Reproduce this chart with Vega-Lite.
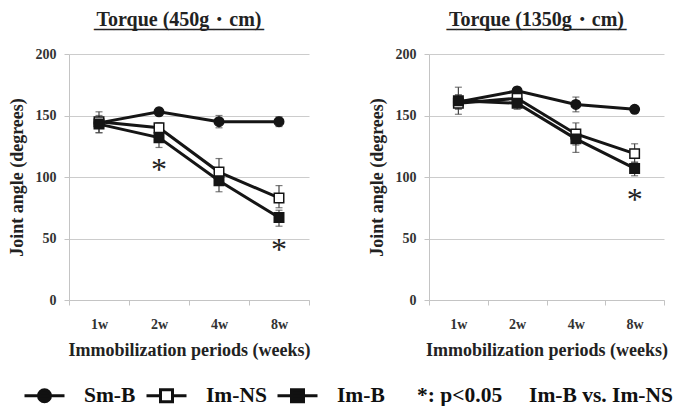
{
  "$schema": "https://vega.github.io/schema/vega-lite/v6.json",
  "background": "white",
  "padding": {"left": 8, "top": 10, "right": 5, "bottom": 0},
  "datasets": {
    "d": [
      {"panel": "L", "series": "Sm-B", "week": "1w", "value": 144, "lo": 140, "hi": 148, "sig": false},
      {"panel": "L", "series": "Sm-B", "week": "2w", "value": 153, "lo": 150, "hi": 156, "sig": false},
      {"panel": "L", "series": "Sm-B", "week": "4w", "value": 145, "lo": 140, "hi": 150, "sig": false},
      {"panel": "L", "series": "Sm-B", "week": "8w", "value": 145, "lo": 141, "hi": 149, "sig": false},
      {"panel": "L", "series": "Im-NS", "week": "1w", "value": 145, "lo": 136, "hi": 153, "sig": false},
      {"panel": "L", "series": "Im-NS", "week": "2w", "value": 140, "lo": 136, "hi": 144, "sig": false},
      {"panel": "L", "series": "Im-NS", "week": "4w", "value": 104, "lo": 96, "hi": 115, "sig": false},
      {"panel": "L", "series": "Im-NS", "week": "8w", "value": 83, "lo": 75, "hi": 93, "sig": false},
      {"panel": "L", "series": "Im-B", "week": "1w", "value": 143, "lo": 136, "hi": 150, "sig": false},
      {"panel": "L", "series": "Im-B", "week": "2w", "value": 132, "lo": 124, "hi": 137, "sig": true},
      {"panel": "L", "series": "Im-B", "week": "4w", "value": 97, "lo": 88, "hi": 104, "sig": false},
      {"panel": "L", "series": "Im-B", "week": "8w", "value": 67, "lo": 60, "hi": 73, "sig": true},
      {"panel": "R", "series": "Sm-B", "week": "1w", "value": 161, "lo": 156, "hi": 166, "sig": false},
      {"panel": "R", "series": "Sm-B", "week": "2w", "value": 170, "lo": 167, "hi": 173, "sig": false},
      {"panel": "R", "series": "Sm-B", "week": "4w", "value": 159, "lo": 153, "hi": 165, "sig": false},
      {"panel": "R", "series": "Sm-B", "week": "8w", "value": 155, "lo": 152, "hi": 158, "sig": false},
      {"panel": "R", "series": "Im-NS", "week": "1w", "value": 160, "lo": 151, "hi": 167, "sig": false},
      {"panel": "R", "series": "Im-NS", "week": "2w", "value": 164, "lo": 158, "hi": 168, "sig": false},
      {"panel": "R", "series": "Im-NS", "week": "4w", "value": 135, "lo": 126, "hi": 144, "sig": false},
      {"panel": "R", "series": "Im-NS", "week": "8w", "value": 119, "lo": 112, "hi": 127, "sig": false},
      {"panel": "R", "series": "Im-B", "week": "1w", "value": 162, "lo": 155, "hi": 173, "sig": false},
      {"panel": "R", "series": "Im-B", "week": "2w", "value": 160, "lo": 155, "hi": 164, "sig": false},
      {"panel": "R", "series": "Im-B", "week": "4w", "value": 131, "lo": 120, "hi": 138, "sig": false},
      {"panel": "R", "series": "Im-B", "week": "8w", "value": 107, "lo": 101, "hi": 112, "sig": true}
    ]
  },
  "config": {
    "font": "Liberation Serif",
    "view": {"stroke": null},
    "concat": {"spacing": 58},
    "axis": {
      "labelFont": "Liberation Serif",
      "labelFontWeight": "bold",
      "labelFontSize": 14,
      "labelColor": "#333",
      "titleFont": "Liberation Serif",
      "titleFontSize": 18,
      "titleFontWeight": "bold",
      "titleColor": "#222",
      "domainColor": "#c4c4c4",
      "tickColor": "#c4c4c4",
      "gridColor": "#cccccc"
    },
    "title": {
      "font": "Liberation Serif",
      "fontSize": 20,
      "fontWeight": "bold",
      "color": "#222",
      "anchor": "middle",
      "frame": "group",
      "dx": -10,
      "offset": 16,
      "subtitleFont": "Liberation Serif",
      "subtitleFontSize": 20,
      "subtitleFontWeight": "bold",
      "subtitleColor": "#222",
      "subtitlePadding": -19
    },
    "legend": {
      "orient": "none",
      "legendX": -46,
      "legendY": 320,
      "direction": "horizontal",
      "title": null,
      "labelFont": "Liberation Serif",
      "labelFontSize": 21.5,
      "labelFontWeight": "bold",
      "labelColor": "#111",
      "labelLimit": 600,
      "symbolSize": 1600,
      "symbolStrokeWidth": 3,
      "symbolStrokeColor": "#111",
      "symbolOpacity": 1,
      "labelOffset": 18,
      "columnPadding": 4
    }
  },
  "hconcat": [
    {
      "width": 240,
      "height": 246,
      "title": {"text": "Torque (450g・cm)", "subtitle": "_________________"},
      "data": {"name": "d"},
      "transform": [{"filter": "datum.panel == 'L'"}],
      "encoding": {
        "x": {
          "field": "week", "type": "ordinal", "sort": ["1w", "2w", "4w", "8w"],
          "scale": {"paddingInner": 0, "paddingOuter": 0},
          "axis": {"title": "Immobilization periods (weeks)", "labelAngle": 0, "tickBand": "extent", "grid": false, "tickSize": 5, "labelPadding": 12, "titlePadding": 10}
        },
        "y": {
          "field": "value", "type": "quantitative",
          "scale": {"domain": [0, 200]},
          "axis": {"title": "Joint angle (degrees)", "values": [0, 50, 100, 150, 200], "grid": true, "tickSize": 5, "labelPadding": 8, "titlePadding": 9}
        }
      },
      "layer": [
        {
          "mark": {"type": "rule", "color": "#444", "strokeWidth": 1.2},
          "encoding": {"y": {"field": "lo", "type": "quantitative", "title": "Joint angle (degrees)"}, "y2": {"field": "hi"}}
        },
        {
          "mark": {"type": "tick", "color": "#444", "thickness": 1.2, "size": 7},
          "encoding": {"y": {"field": "lo", "type": "quantitative", "title": "Joint angle (degrees)"}}
        },
        {
          "mark": {"type": "tick", "color": "#444", "thickness": 1.2, "size": 7},
          "encoding": {"y": {"field": "hi", "type": "quantitative", "title": "Joint angle (degrees)"}}
        },
        {
          "mark": {"type": "line", "color": "#151515", "strokeWidth": 3},
          "encoding": {"detail": {"field": "series"}}
        },
        {
          "mark": {"type": "point", "filled": true, "size": 90, "stroke": "#151515", "strokeWidth": 1.5, "opacity": 1},
          "encoding": {
            "shape": {"condition": {"test": "datum.series == 'Sm-B'", "value": "circle"}, "value": "square"},
            "fill": {"condition": {"test": "datum.series == 'Im-NS'", "value": "white"}, "value": "#151515"}
          }
        },
        {
          "transform": [{"filter": "datum.sig"}],
          "mark": {"type": "text", "text": "*", "font": "Liberation Serif", "fontSize": 32, "baseline": "alphabetic", "dy": 42, "color": "#222"}
        },
        {
          "transform": [{"filter": "false"}],
          "mark": {"type": "point", "filled": true, "strokeWidth": 3, "opacity": 1},
          "encoding": {
            "shape": {
              "field": "series", "type": "nominal",
              "scale": {
                "domain": ["Sm-B", "Im-NS", "Im-B"],
                "range": [
                  "M-1,0H1M-0.3,0A0.3,0.3,0,1,0,0.3,0A0.3,0.3,0,1,0,-0.3,0Z",
                  "M-1,0H-0.3M0.3,0H1M-0.3,-0.3H0.3V0.3H-0.3Z",
                  "M-1,0H1M-0.3,-0.3H0.3V0.3H-0.3Z"
                ]
              },
              "legend": {"labelExpr": "datum.label == 'Im-B' ? 'Im-B\u00a0\u00a0\u00a0\u00a0\u00a0\u00a0*: p<0.05\u00a0\u00a0\u00a0\u00a0\u00a0Im-B vs. Im-NS' : datum.label"}
            },
            "fill": {
              "field": "series", "type": "nominal",
              "scale": {"domain": ["Sm-B", "Im-NS", "Im-B"], "range": ["#111", "white", "#111"]},
              "legend": {"labelExpr": "datum.label == 'Im-B' ? 'Im-B\u00a0\u00a0\u00a0\u00a0\u00a0\u00a0*: p<0.05\u00a0\u00a0\u00a0\u00a0\u00a0Im-B vs. Im-NS' : datum.label"}
            },
            "stroke": {
              "field": "series", "type": "nominal",
              "scale": {"domain": ["Sm-B", "Im-NS", "Im-B"], "range": ["#111", "#111", "#111"]},
              "legend": {"labelExpr": "datum.label == 'Im-B' ? 'Im-B\u00a0\u00a0\u00a0\u00a0\u00a0\u00a0*: p<0.05\u00a0\u00a0\u00a0\u00a0\u00a0Im-B vs. Im-NS' : datum.label"}
            }
          }
        }
      ]
    },
    {
      "width": 235,
      "height": 246,
      "title": {"text": "Torque (1350g・cm)", "subtitle": "__________________"},
      "data": {"name": "d"},
      "transform": [{"filter": "datum.panel == 'R'"}],
      "encoding": {
        "x": {
          "field": "week", "type": "ordinal", "sort": ["1w", "2w", "4w", "8w"],
          "scale": {"paddingInner": 0, "paddingOuter": 0},
          "axis": {"title": "Immobilization periods (weeks)", "labelAngle": 0, "tickBand": "extent", "grid": false, "tickSize": 5, "labelPadding": 12, "titlePadding": 10}
        },
        "y": {
          "field": "value", "type": "quantitative",
          "scale": {"domain": [0, 200]},
          "axis": {"title": "Joint angle (degrees)", "values": [0, 50, 100, 150, 200], "grid": true, "tickSize": 5, "labelPadding": 8, "titlePadding": 9}
        }
      },
      "layer": [
        {
          "mark": {"type": "rule", "color": "#444", "strokeWidth": 1.2},
          "encoding": {"y": {"field": "lo", "type": "quantitative", "title": "Joint angle (degrees)"}, "y2": {"field": "hi"}}
        },
        {
          "mark": {"type": "tick", "color": "#444", "thickness": 1.2, "size": 7},
          "encoding": {"y": {"field": "lo", "type": "quantitative", "title": "Joint angle (degrees)"}}
        },
        {
          "mark": {"type": "tick", "color": "#444", "thickness": 1.2, "size": 7},
          "encoding": {"y": {"field": "hi", "type": "quantitative", "title": "Joint angle (degrees)"}}
        },
        {
          "mark": {"type": "line", "color": "#151515", "strokeWidth": 3},
          "encoding": {"detail": {"field": "series"}}
        },
        {
          "mark": {"type": "point", "filled": true, "size": 90, "stroke": "#151515", "strokeWidth": 1.5, "opacity": 1},
          "encoding": {
            "shape": {"condition": {"test": "datum.series == 'Sm-B'", "value": "circle"}, "value": "square"},
            "fill": {"condition": {"test": "datum.series == 'Im-NS'", "value": "white"}, "value": "#151515"}
          }
        },
        {
          "transform": [{"filter": "datum.sig"}],
          "mark": {"type": "text", "text": "*", "font": "Liberation Serif", "fontSize": 32, "baseline": "alphabetic", "dy": 42, "color": "#222"}
        }
      ]
    }
  ]
}
